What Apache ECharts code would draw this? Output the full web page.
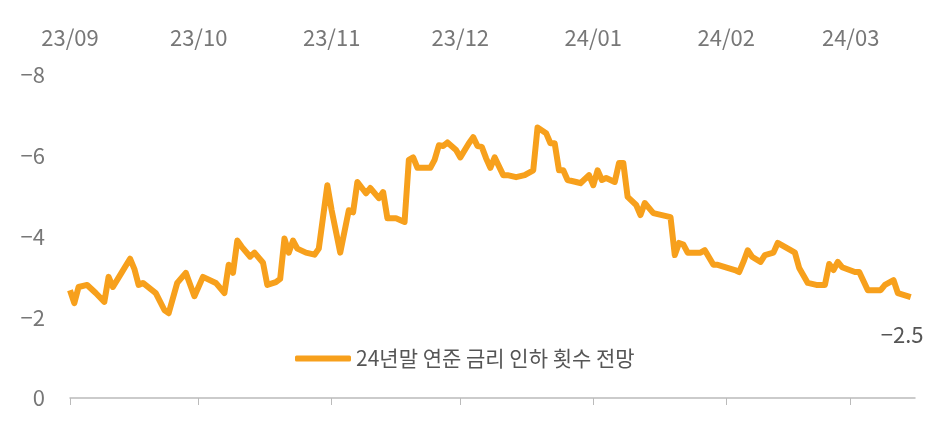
<!DOCTYPE html>
<html>
<head>
<meta charset="utf-8">
<script src="https://cdn.jsdelivr.net/npm/echarts@6/dist/echarts.min.js"></script>
<style>html,body{margin:0;background:#fff}#c{width:940px;height:423px}</style>
</head>
<body>
<div id="c"></div>
<script>
// days since 2023-09-01
var days = [0,1,2,4,6,8,9,10,12,14,15,16,17,20,22,23,25,27,29,31,34,36,37,38,39,40,42,43,45,46,48,49,50,51,52,53,55,57,58,60,61,63,65,66,67,69,70,72,73,74,76,78,79,80,81,84,85,86,87,88,90,91,93,94,95,96,97,98,99,101,102,104,106,108,109,111,112,113,114,115,116,118,119,121,122,123,124,125,127,128,129,130,132,133,134,136,138,140,141,142,143,144,147,148,150,151,155,156,157,158,159,161,162,164,165,168,169,170,172,174,176,177,178,179,180,183,184,186,189,190,192,193,196]
var cuts = [-2.67,-2.35,-2.75,-2.8,-2.6,-2.38,-3.0,-2.75,-3.1,-3.45,-3.2,-2.8,-2.85,-2.6,-2.18,-2.1,-2.85,-3.1,-2.52,-3.0,-2.85,-2.6,-3.3,-3.1,-3.9,-3.75,-3.5,-3.6,-3.35,-2.8,-2.87,-2.95,-3.95,-3.6,-3.9,-3.7,-3.6,-3.55,-3.7,-5.27,-4.65,-3.6,-4.65,-4.6,-5.35,-5.07,-5.2,-4.95,-5.1,-4.45,-4.45,-4.36,-5.9,-5.96,-5.7,-5.7,-5.9,-6.26,-6.24,-6.33,-6.14,-5.96,-6.31,-6.46,-6.24,-6.22,-5.94,-5.7,-5.96,-5.52,-5.52,-5.47,-5.52,-5.64,-6.7,-6.56,-6.31,-6.31,-5.64,-5.64,-5.4,-5.35,-5.32,-5.52,-5.27,-5.64,-5.4,-5.45,-5.35,-5.82,-5.82,-4.98,-4.78,-4.53,-4.83,-4.58,-4.53,-4.48,-3.54,-3.84,-3.8,-3.6,-3.6,-3.66,-3.3,-3.3,-3.17,-3.12,-3.37,-3.66,-3.5,-3.37,-3.54,-3.6,-3.84,-3.66,-3.6,-3.22,-2.85,-2.8,-2.8,-3.32,-3.17,-3.37,-3.24,-3.12,-3.12,-2.67,-2.67,-2.8,-2.92,-2.6,-2.5]
var monthDays = [0,30,61,91,122,153,182]
var monthLabels = ['23/09','23/10','23/11','23/12','24/01','24/02','24/03']
var seriesName = '24년말 연준 금리 인하 횟수 전망'

var data = days.map(function (d, i) { return [d, cuts[i]] })
var font = 'Noto Sans CJK KR'
var chart = echarts.init(document.getElementById('c'))
chart.setOption({
  animation: false,
  grid: { left: 70, right: 25, top: 75, bottom: 25 },
  legend: {
    left: 290, top: 343, itemWidth: 56, itemHeight: 6, itemGap: 8,
    icon: 'roundRect',
    textStyle: { fontFamily: font, fontSize: 21, color: '#555' },
    data: [seriesName]
  },
  xAxis: [{
    type: 'value', min: 0, max: 197, position: 'bottom',
    axisLine: { lineStyle: { color: '#bbb', width: 1.5 } },
    axisTick: { show: true, length: 7, lineStyle: { color: '#bbb' }, customValues: monthDays },
    axisLabel: { show: false },
    splitLine: { show: false }
  }, {
    type: 'value', min: 0, max: 197, position: 'top',
    axisLine: { show: false }, axisTick: { show: false }, splitLine: { show: false },
    axisLabel: {
      customValues: monthDays, margin: 26,
      fontFamily: font, fontSize: 22, color: '#777',
      formatter: function (v) { return monthLabels[monthDays.indexOf(v)] }
    }
  }],
  yAxis: {
    type: 'value', min: -8, max: 0, interval: 2, inverse: true,
    axisLine: { show: false }, axisTick: { show: false }, splitLine: { show: false },
    axisLabel: { fontFamily: font, fontSize: 22, color: '#777', margin: 25,
      formatter: function (v) { return v === 0 ? '0' : '\u2212' + Math.abs(v) } }
  },
  series: [{
    name: seriesName, type: 'line', data: data, symbol: 'none',
    lineStyle: { color: '#F7A01C', width: 6, join: 'round' },
    itemStyle: { color: '#F7A01C' },
    endLabel: { show: true, offset: [-38, 38], fontFamily: font, fontSize: 22, color: '#555',
      formatter: function (p) { return '\u2212' + Math.abs(p.value[1]) } }
  }]
})
</script>
</body>
</html>
